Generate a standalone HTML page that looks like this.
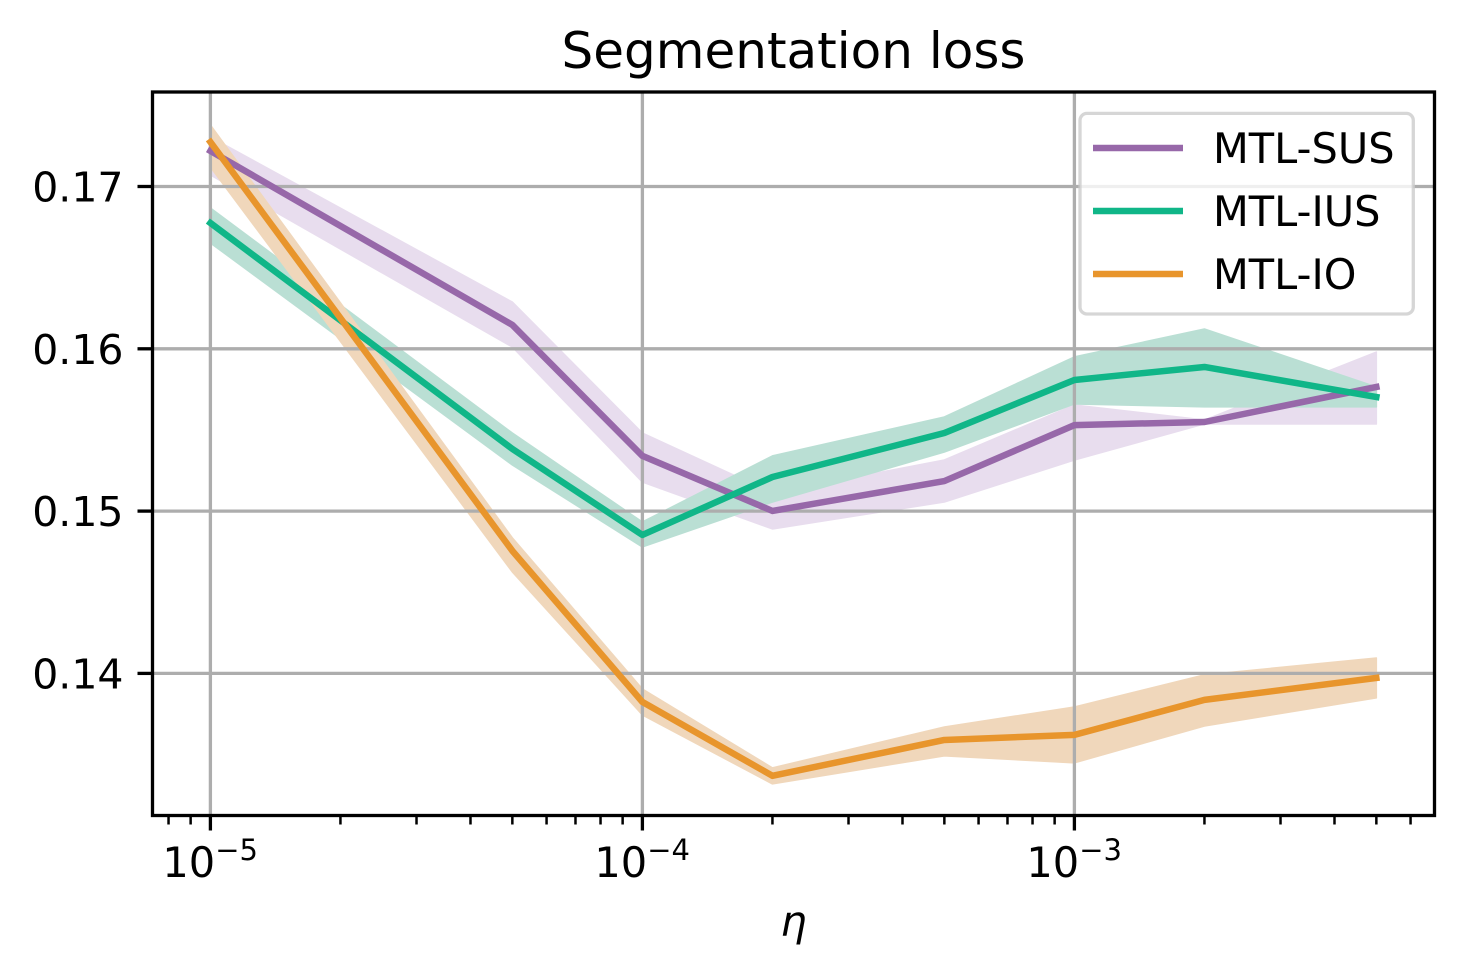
<!DOCTYPE html>
<html>
<head>
<meta charset="utf-8">
<title>Segmentation loss</title>
<style>
html,body{margin:0;padding:0;background:#fff;width:1463px;height:975px;overflow:hidden}
svg{display:block}
text{font-family:"DejaVu Sans","Liberation Sans",sans-serif;fill:#000}
</style>
</head>
<body>
<svg id="chart" xmlns="http://www.w3.org/2000/svg" width="1463" height="975" viewBox="0 0 1463 975"></svg>
<script>
const etas = [1e-5, 5e-5, 1e-4, 2e-4, 5e-4, 1e-3, 2e-3, 5e-3];

const susMean  = [0.17219, 0.16147, 0.15340, 0.15001, 0.15185, 0.15530, 0.15549, 0.15765];
const susUpper = [0.17305, 0.16288, 0.15481, 0.15112, 0.15315, 0.15654, 0.15561, 0.15980];
const susLower = [0.17071, 0.16011, 0.15179, 0.14890, 0.15056, 0.15315, 0.15537, 0.15537];

const iusMean  = [0.16775, 0.15383, 0.14853, 0.15210, 0.15481, 0.15808, 0.15888, 0.15703];
const iusUpper = [0.16868, 0.15481, 0.14933, 0.15340, 0.15580, 0.15950, 0.16122, 0.15765];
const iusLower = [0.16652, 0.15284, 0.14779, 0.15056, 0.15364, 0.15660, 0.15642, 0.15642];

const ioMean  = [0.17274, 0.14755, 0.13824, 0.13369, 0.13590, 0.13621, 0.13837, 0.13972];
const ioUpper = [0.17379, 0.14835, 0.13904, 0.13418, 0.13670, 0.13793, 0.13991, 0.14095];
const ioLower = [0.17120, 0.14625, 0.13744, 0.13319, 0.13492, 0.13449, 0.13676, 0.13849];

const seriesNames = ['MTL-SUS', 'MTL-IUS', 'MTL-IO'];
const yTicks = [0.17, 0.16, 0.15, 0.14];
const yTickLabels = ['0.17', '0.16', '0.15', '0.14'];
const xMajorExponents = [-5, -4, -3];
const xMinorTicks = [8e-6, 9e-6, 2e-5, 3e-5, 4e-5, 5e-5, 6e-5, 7e-5, 8e-5, 9e-5, 2e-4, 3e-4, 4e-4, 5e-4, 6e-4, 7e-4, 8e-4, 9e-4, 2e-3, 3e-3, 4e-3, 5e-3, 6e-3];

const NS = 'http://www.w3.org/2000/svg';
const svg = document.getElementById('chart');
const L = 152.5, R = 1434.5, T = 92, B = 815.5;
const FS = 41.5;

function xScale(v) { return 210.4 + (Math.log10(v) + 5) * 432; }
function yScale(v) { return 186.5 + (0.17 - v) * 16230; }

function el(tag, attrs, parent) {
  const e = document.createElementNS(NS, tag);
  for (const k in attrs) e.setAttribute(k, attrs[k]);
  (parent || svg).appendChild(e);
  return e;
}

const colors = ['#9768a9', '#10b688', '#e8952c'];
const bandColors = ['#e8ddee', '#badfd4', '#f0d7bb'];
const means = [susMean, iusMean, ioMean];
const uppers = [susUpper, iusUpper, ioUpper];
const lowers = [susLower, iusLower, ioLower];

// bands (below grid)
means.forEach(function (m, i) {
  const up = etas.map(function (x, j) { return xScale(x) + ',' + yScale(uppers[i][j]); });
  const lo = etas.map(function (x, j) { return xScale(x) + ',' + yScale(lowers[i][j]); }).reverse();
  const band = el('polygon', { points: up.concat(lo).join(' '), fill: bandColors[i], stroke: bandColors[i], 'stroke-width': 1.5, 'stroke-linejoin': 'round' });
  
  
});

// grid
yTicks.forEach(function (t, i) {
  const g = el('line', { x1: L, x2: R, y1: yScale(t), y2: yScale(t), stroke: '#adadad', 'stroke-width': 3.3 });
  
  
});
xMajorExponents.forEach(function (e) {
  const x = xScale(Math.pow(10, e));
  const g = el('line', { x1: x, x2: x, y1: T, y2: B, stroke: '#adadad', 'stroke-width': 3.3 });
  
  
});

// lines
means.forEach(function (m, i) {
  const pts = etas.map(function (x, j) { return xScale(x) + ',' + yScale(m[j]); }).join(' ');
  const line = el('polyline', { points: pts, fill: 'none', stroke: colors[i], 'stroke-width': 6.5, 'stroke-linejoin': 'round', 'stroke-linecap': 'square' });
  
  
});

// frame
const frame = el('rect', { x: L, y: T, width: R - L, height: B - T, fill: 'none', stroke: '#000', 'stroke-width': 3.3 });



// y ticks
yTicks.forEach(function (t, i) {
  const y = yScale(t);
  const tick = el('line', { x1: L - 15, x2: L, y1: y, y2: y, stroke: '#000', 'stroke-width': 3.3 });
  
  
  const label = el('text', { x: 123.5, y: y + 15, 'text-anchor': 'end', 'font-size': 41 });
  label.textContent = yTickLabels[i];
  
  
});

// x ticks
xMajorExponents.forEach(function (e) {
  const x = xScale(Math.pow(10, e));
  const tick = el('line', { x1: x, x2: x, y1: B, y2: B + 15, stroke: '#000', 'stroke-width': 3.3 });
  
  
  const label = el('text', { x: x - 48, y: 877, 'font-size': FS });
  
  
  const base = el('tspan', {}, label);
  base.textContent = '10';
  const sup = el('tspan', { dy: -17, 'font-size': 29 }, label);
  sup.textContent = '\u2212' + Math.abs(e);
});
xMinorTicks.forEach(function (v) {
  const x = xScale(v);
  const tick = el('line', { x1: x, x2: x, y1: B, y2: B + 9, stroke: '#000', 'stroke-width': 2.5 });
  
  
});

// title and axis label
const title = el('text', { x: 793.5, y: 68, 'text-anchor': 'middle', 'font-size': 50 });
title.textContent = 'Segmentation loss';



const xTitle = el('text', { x: 793.5, y: 936, 'text-anchor': 'middle', 'font-size': FS, 'font-style': 'italic' });
xTitle.textContent = '\u03B7';



// legend
const legendBox = el('rect', { x: 1080, y: 113.4, width: 333.3, height: 200.6, rx: 7, ry: 7, fill: '#fff', 'fill-opacity': 0.8, stroke: '#cccccc', 'stroke-opacity': 0.8, 'stroke-width': 3.3 });



seriesNames.forEach(function (name, i) {
  const yy = 148 + i * 63;
  const h = el('line', { x1: 1093, x2: 1183, y1: yy, y2: yy, stroke: colors[i], 'stroke-width': 6.5 });
  
  
  const t = el('text', { x: 1213, y: yy + 15, 'font-size': FS });
  t.textContent = name;
  
  
});
</script>
</body>
</html>
